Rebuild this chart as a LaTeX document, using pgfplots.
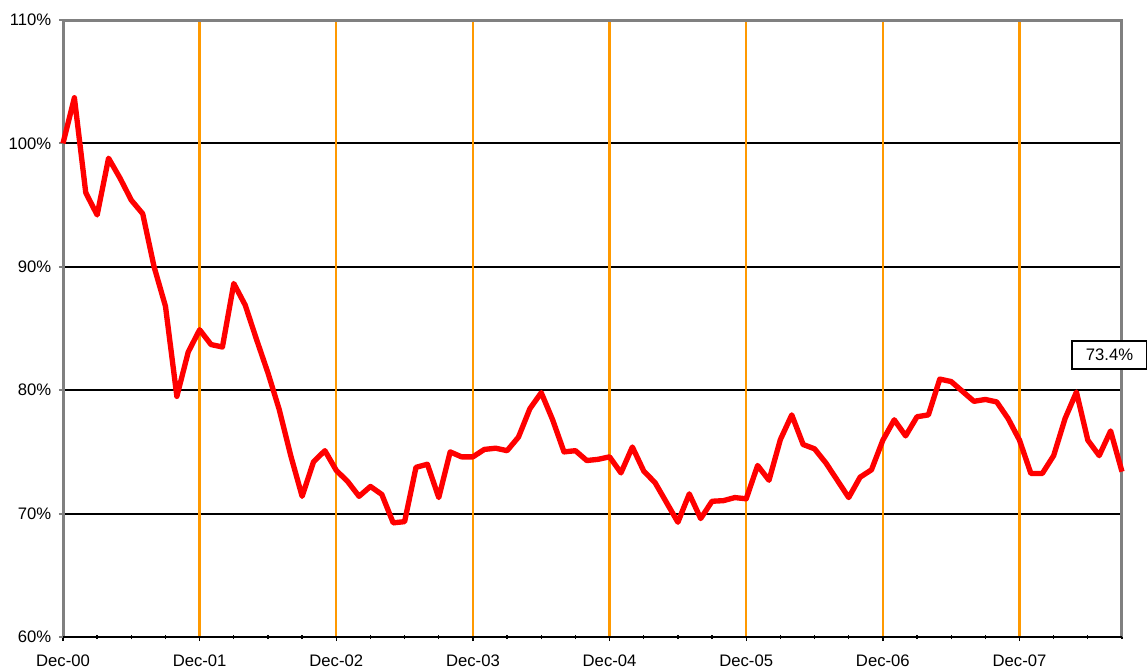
\documentclass[border=0pt]{standalone}
\usepackage{fontspec}
\setmainfont{Liberation Sans}
\usepackage{pgfplots}
\pgfplotsset{compat=1.18}
\definecolor{frame}{RGB}{128,128,128}
\definecolor{gridorange}{RGB}{255,153,0}
\begin{document}
\begin{tikzpicture}[x=1pt,y=1pt]
\begin{axis}[
  at={(0,0)}, anchor=south west,
  scale only axis,
  width=635.4pt, height=370.2pt,
  xmin=0, xmax=93, ymin=60, ymax=110,
  axis line style={draw=none},
  clip=false,
  font=\fontsize{10}{12}\selectfont,
  /pgf/number format/assume math mode=true,
  xtick={0,12,24,36,48,60,72,84},
  xticklabels={Dec-00,Dec-01,Dec-02,Dec-03,Dec-04,Dec-05,Dec-06,Dec-07},
  minor xtick={3,6,9,15,18,21,27,30,33,39,42,45,51,54,57,63,66,69,75,78,81,87,90,93},
  ytick={60,70,80,90,100,110},
  yticklabel={\pgfmathprintnumber{\tick}\%},
  x tick style={black, line width=0.8pt},
  xtick pos=bottom, ytick pos=left,
  x tick label style={yshift=-4.5pt},
  tick align=center,
  major tick length=5pt,
  minor tick length=2.5pt,
  y tick style={frame, line width=1.2pt},
  y tick label style={xshift=-1pt},
]
% grid lines
\pgfplotsinvokeforeach{70,80,90,100}{
  \draw[black, line width=1.2pt] (axis cs:0,#1) -- (axis cs:93,#1);
}
\pgfplotsinvokeforeach{12,24,36,48,60,72,84}{
  \draw[gridorange, line width=1.4pt] (axis cs:#1,60) -- (axis cs:#1,110);
}
% frame
\draw[frame, line width=1.8pt] (rel axis cs:0,0) -- (rel axis cs:0,1) -- (rel axis cs:1,1) -- (rel axis cs:1,0);
\draw[black, line width=1.2pt] (rel axis cs:0,0) -- (rel axis cs:1,0);
\addplot[red, line width=3.2pt, line join=round, mark=none] coordinates {
(0,100.0) (1,103.7) (2,96.0) (3,94.2) (4,98.8) (5,97.2) (6,95.4) (7,94.3)
(8,90.0) (9,86.8) (10,79.5) (11,83.1) (12,84.9) (13,83.7) (14,83.5) (15,88.65)
(16,86.9) (17,84.1) (18,81.4) (19,78.4) (20,74.7) (21,71.4) (22,74.2) (23,75.1)
(24,73.5) (25,72.6) (26,71.4) (27,72.2) (28,71.55) (29,69.25) (30,69.35) (31,73.75)
(32,74.0) (33,71.3) (34,75.0) (35,74.6) (36,74.6) (37,75.2) (38,75.3) (39,75.1)
(40,76.2) (41,78.5) (42,79.8) (43,77.6) (44,75.0) (45,75.1) (46,74.3) (47,74.4)
(48,74.6) (49,73.3) (50,75.4) (51,73.45) (52,72.5) (53,70.9) (54,69.3) (55,71.6)
(56,69.6) (57,71.0) (58,71.05) (59,71.3) (60,71.2) (61,73.9) (62,72.7) (63,76.0)
(64,78.0) (65,75.6) (66,75.25) (67,74.1) (68,72.7) (69,71.3) (70,72.95) (71,73.55)
(72,75.95) (73,77.6) (74,76.3) (75,77.85) (76,78.0) (77,80.9) (78,80.7) (79,79.9)
(80,79.1) (81,79.25) (82,79.05) (83,77.7) (84,75.95) (85,73.25) (86,73.25) (87,74.7)
(88,77.7) (89,79.85) (90,75.95) (91,74.7) (92,76.7) (93,73.4)
};
\node[draw=black, line width=0.7pt, fill=white, minimum width=45pt, minimum height=16.8pt, inner sep=0pt, font=\fontsize{10}{12}\selectfont] at (axis cs:91.9,82.85) {73.4\%};
\end{axis}
\pgfresetboundingbox
\path (-37.8pt,-20.4pt) rectangle (650.4pt,382.2pt);
\end{tikzpicture}
\end{document}
